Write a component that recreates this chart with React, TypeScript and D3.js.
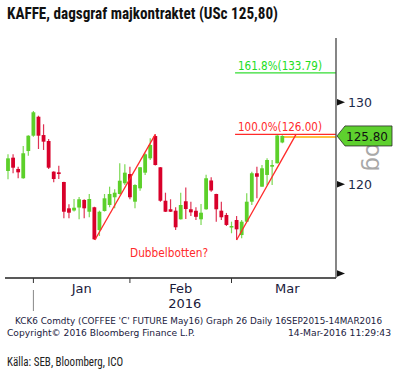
import React from 'react';
import * as d3 from 'd3';

const opens = [121.57,123.16,121.81,120.71,123.96,125.83,128.18,125.91,125.18,121.49,121.41,120.27,117.22,116.97,117.31,118.18,116.83,117.34,114.76,116.91,117.60,118.49,118.87,120.12,121.21,117.98,119.53,121.37,123.08,125.79,122.01,118.09,117.11,116.95,115.97,118.03,117.11,116.94,115.97,117.11,120.45,118.87,116.95,116.46,115.07,115.89,114.20,115.70,117.98,121.30,119.72,121.10,122.08,122.49,125.00];
const highs = [123.57,123.57,122.08,124.57,125.88,128.90,128.31,127.24,125.43,121.55,122.20,120.30,117.68,118.29,118.52,118.26,118.87,117.40,116.95,118.87,119.72,119.42,122.49,122.37,122.08,120.00,122.05,123.69,125.51,126.00,122.05,119.02,118.26,117.34,119.02,119.63,117.98,117.34,117.72,121.12,120.82,118.90,117.98,116.69,115.70,116.34,115.89,118.95,121.49,122.08,122.28,123.08,122.88,125.91,125.90];
const lows = [120.59,121.30,120.71,120.65,123.40,125.71,124.21,124.09,121.81,120.23,120.62,116.08,116.08,116.86,115.97,116.08,116.20,113.65,114.09,116.85,117.34,117.22,118.80,119.92,118.26,117.22,119.25,121.10,122.88,122.22,117.98,116.80,116.80,114.76,115.95,116.00,116.34,115.89,115.33,117.05,119.14,115.70,115.89,115.21,114.40,113.65,113.84,115.68,117.60,118.37,119.70,119.92,119.92,122.47,124.90];
const closes = [123.08,121.96,121.41,123.69,125.83,128.74,125.83,125.10,121.96,120.62,121.21,116.83,116.72,117.29,118.26,117.22,118.29,113.73,116.83,118.37,118.87,119.02,120.42,121.37,118.49,119.92,122.01,123.57,124.69,122.28,118.09,116.83,116.83,115.07,117.60,117.14,116.76,116.25,116.72,120.71,119.28,117.11,116.20,115.33,115.21,114.84,115.70,117.98,121.30,120.89,121.89,122.88,122.28,125.85,125.80];

const monthTickIdx = [5, 24, 44];
const monthLabels = ['Jan', 'Feb', 'Mar'];
const monthLabelIdx = [14.5, 34, 55];
const yearLabel = '2016';
const yearIdx = 34.8;
const yTicks = [110, 120, 130];
const yTickLabels = ['', '120', '130'];
const fibLevels = [133.79, 126.0];
const fibLabels = ['161.8%(133.79)', '100.0%(126.00)'];
const fibStartIdx = 44.7;
const trendLines = [
  [17.1, 113.65, 29, 126.0],
  [45, 113.65, 56.7, 126.0],
];
const lastPrice = 125.8;
const lastPriceLabel = '125.80';

const GREEN = '#5cd02a';
const RED = '#d8002a';

export default function App() {
  const x = d3.scaleLinear().domain([0, 54]).range([8, 282.3]);
  const y = d3.scaleLog().domain([120, 130]).range([184.3, 102.3]);
  const axisX = 336;
  const axisBottom = 278;
  const plotTop = 38;
  const bw = 3.8;
  const lineGen = d3.line<[number, number]>().x((d) => x(d[0])).y((d) => y(d[1]));

  const yLast = y(lastPrice);

  return (
    <svg width={399} height={373} style={{ position: 'absolute', left: 0, top: 0, background: '#fff' }}
      fontFamily="DejaVu Sans, sans-serif">
      <rect x={0} y={0} width={399} height={373} fill="#fff" />
      <text x={7} y={18.5} fontFamily="Liberation Sans Narrow, Roboto Condensed, Liberation Sans, sans-serif"
        fontWeight="bold" fontSize={16} fill="#111" textLength={271} lengthAdjust="spacingAndGlyphs">
        KAFFE, dagsgraf majkontraktet (USc 125,80)
      </text>

      {/* rotated Log label (partially hidden) */}
      <text transform={`translate(366,143) rotate(90)`} fontSize={23} fill="#a8a8a8">og</text>

      {/* fib lines */}
      {fibLevels.map((v, i) => (
        <g key={'fib' + i}>
          <line x1={x(fibStartIdx)} x2={axisX} y1={y(v)} y2={y(v)} stroke={i === 0 ? '#33dd33' : '#ff2a2a'} strokeWidth={1.2} />
          <text x={238} y={y(v) - 3} fontSize={12} fill={i === 0 ? '#22dd22' : '#ff2a2a'} textLength={84} lengthAdjust="spacingAndGlyphs">
            {fibLabels[i]}
          </text>
        </g>
      ))}
      {/* last price line */}
      <line x1={x(54)} x2={axisX} y1={yLast + 1} y2={yLast + 1} stroke="#ffaa00" strokeWidth={1.5} />

      {/* candles */}
      {opens.map((o, i) => {
        const c = closes[i];
        const up = c >= o;
        const col = up ? GREEN : RED;
        const top = y(Math.max(o, c));
        const bot = y(Math.min(o, c));
        const h = Math.max(1.5, bot - top);
        return (
          <g key={i}>
            <line x1={x(i)} x2={x(i)} y1={y(highs[i])} y2={y(lows[i])} stroke={col} strokeWidth={1.2} opacity={0.8} />
            <rect x={x(i) - bw / 2} y={top} width={bw} height={h} fill={col} />
          </g>
        );
      })}

      {/* trend lines */}
      {trendLines.map((t, i) => (
        <path key={'t' + i} d={lineGen([[t[0], t[1]], [t[2], t[3]]]) || ''} stroke="#ff2a2a" strokeWidth={1.3} fill="none" />
      ))}
      <text x={130} y={256.5} fontSize={11.5} fill="#ff2a2a" textLength={78} lengthAdjust="spacingAndGlyphs">Dubbelbotten?</text>

      {/* axes */}
      <line x1={5} x2={axisX} y1={axisBottom} y2={axisBottom} stroke="#222" strokeWidth={1.3} />
      <line x1={axisX} x2={axisX} y1={plotTop} y2={axisBottom} stroke="#444" strokeWidth={1.3} />
      {monthTickIdx.map((m, i) => (
        <line key={'mt' + i} x1={x(m)} x2={x(m)} y1={axisBottom} y2={axisBottom + 5} stroke="#333" strokeWidth={1} />
      ))}
      <line x1={x(monthTickIdx[0])} x2={x(monthTickIdx[0])} y1={290} y2={311} stroke="#888" strokeWidth={1} />
      {monthLabels.map((m, i) => (
        <text key={'ml' + i} x={x(monthLabelIdx[i])} y={293} fontSize={13} textAnchor="middle" fill="#1a1a3a">{m}</text>
      ))}
      <text x={x(yearIdx)} y={308} fontSize={13} textAnchor="middle" fill="#1a1a3a">{yearLabel}</text>

      {yTicks.map((v, i) => (
        <g key={'yt' + i}>
          <path d={`M${axisX + 1},${y(v) - 3.2} L${axisX + 9},${y(v)} L${axisX + 1},${y(v) + 3.2} Z`} fill="#111" />
          {yTickLabels[i] && (
            <text x={348} y={y(v) + 4.5} fontSize={12.5} fill="#1b2a4a">{yTickLabels[i]}</text>
          )}
        </g>
      ))}

      {/* last price label */}
      <path d={`M${axisX + 1},${yLast} L${axisX + 9},${yLast - 10} L392,${yLast - 10} L392,${yLast + 10} L${axisX + 9},${yLast + 10} Z`}
        fill="#5ed02e" stroke="#2a2a2a" strokeWidth={0.8} />
      <text x={367} y={yLast + 5} fontSize={13} textAnchor="middle" fill="#111" textLength={42} lengthAdjust="spacingAndGlyphs">{lastPriceLabel}</text>

      {/* footer */}
      <text x={15} y={323.5} fontSize={8.6} fill="#1a1a40" textLength={367} lengthAdjust="spacingAndGlyphs">
        KCK6 Comdty (COFFEE 'C' FUTURE May16) Graph 26  Daily 16SEP2015-14MAR2016
      </text>
      <text x={7} y={335.5} fontSize={8.6} fill="#1a1a40" textLength={188} lengthAdjust="spacingAndGlyphs">
        Copyright© 2016 Bloomberg Finance L.P.
      </text>
      <text x={391} y={335.5} fontSize={8.6} fill="#1a1a40" textAnchor="end" textLength={103} lengthAdjust="spacingAndGlyphs">
        14-Mar-2016 11:29:43
      </text>
      <text x={7} y={366} fontSize={12} fill="#222" fontFamily="Liberation Sans Narrow, Roboto Condensed, Liberation Sans, sans-serif"
        textLength={116} lengthAdjust="spacingAndGlyphs">
        Källa: SEB, Bloomberg, ICO
      </text>
    </svg>
  );
}
